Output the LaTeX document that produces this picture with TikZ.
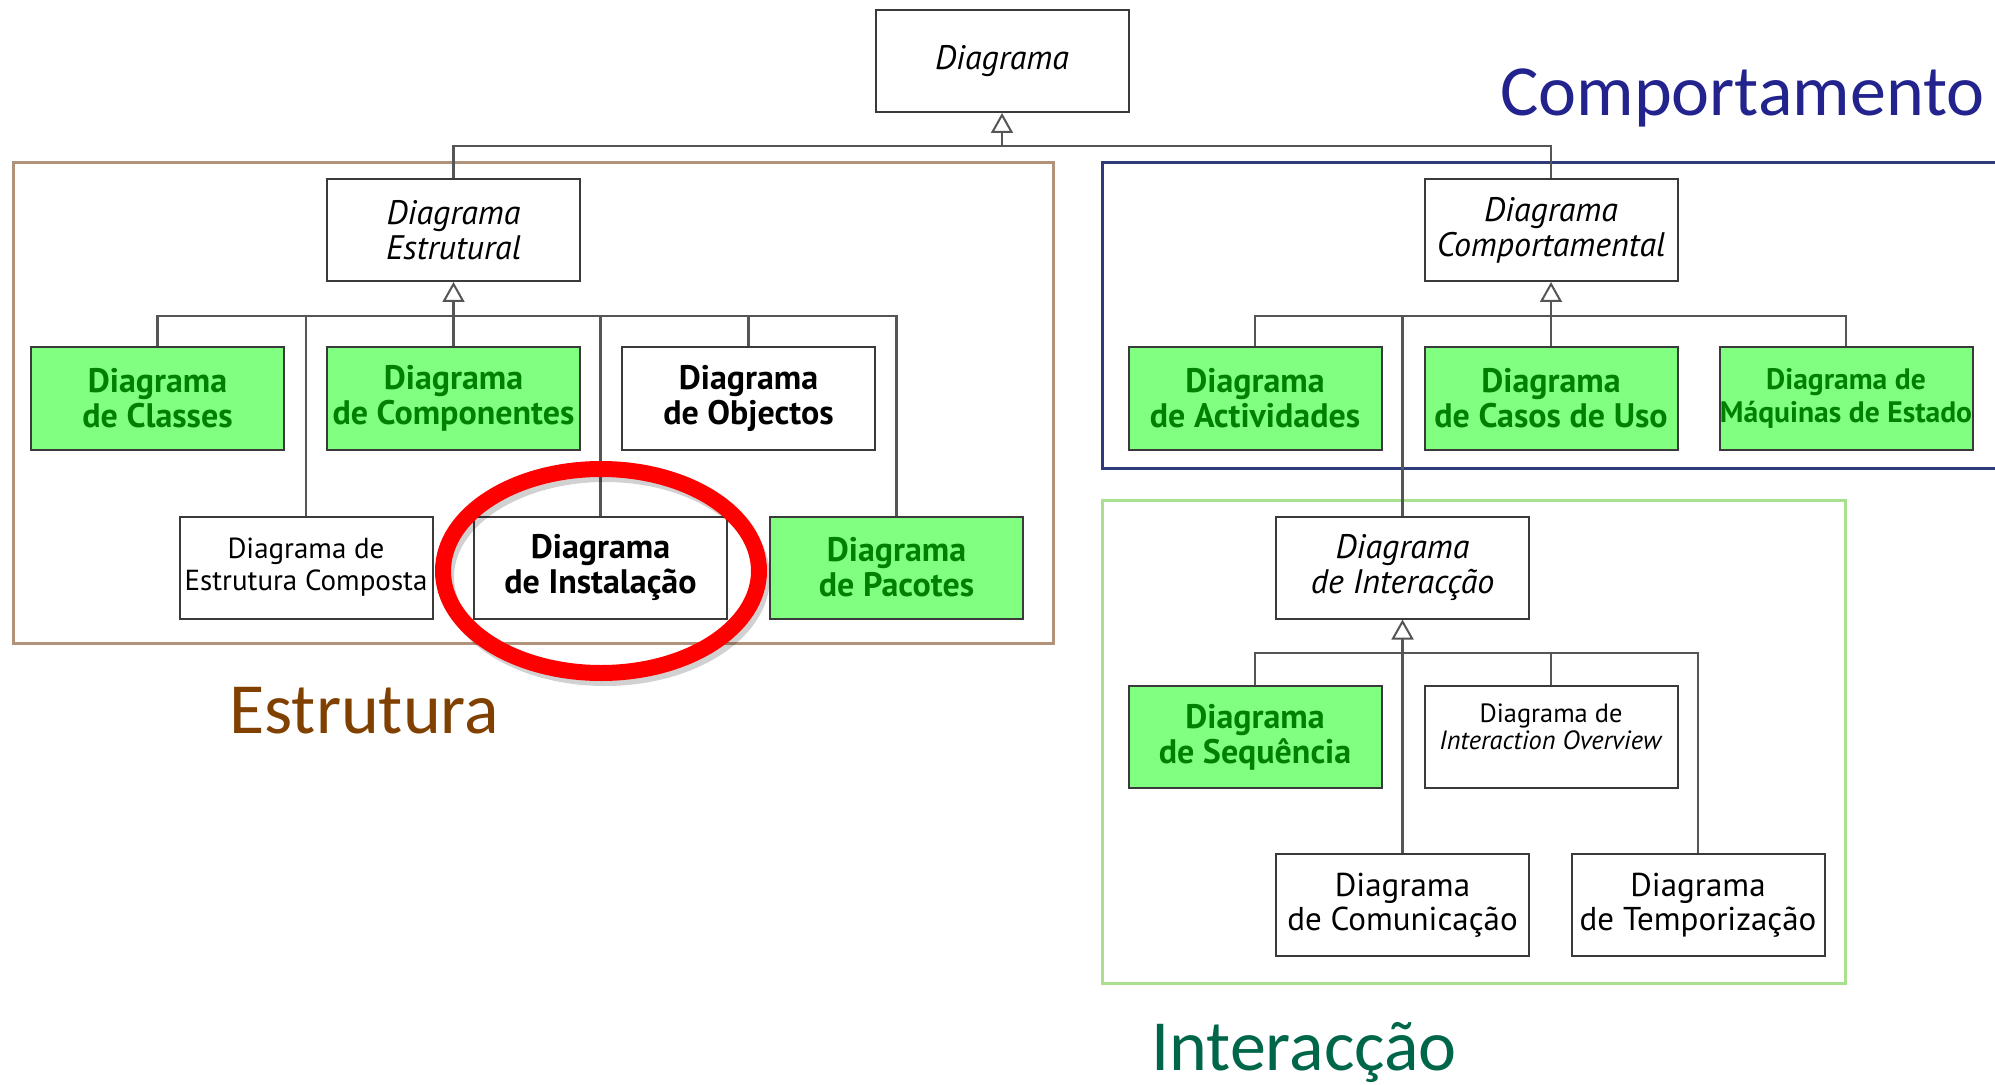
\documentclass[tikz,border=0pt]{standalone}
\usepackage{fontspec}
\setmainfont{PT Sans}
\newfontfamily\labelfont{Carlito}
\usetikzlibrary{arrows.meta,backgrounds}

\definecolor{boxline}{HTML}{3A3A3A}
\definecolor{connline}{HTML}{555555}
\definecolor{greenfill}{HTML}{80FF80}
\definecolor{greentext}{HTML}{008000}
\definecolor{structframe}{HTML}{B0937A}
\definecolor{behavframe}{HTML}{2E3A7A}
\definecolor{interframe}{HTML}{A8E090}
\definecolor{behavtext}{HTML}{23238E}
\definecolor{structtext}{HTML}{7F4000}
\definecolor{intertext}{HTML}{00664A}
\definecolor{markred}{HTML}{FF0000}

\tikzset{
  box/.style={draw=boxline, line width=1pt, fill=white, minimum width=126.5pt,
    minimum height=51pt, inner sep=1pt, align=center, text=black,
    font=\fontsize{16.5}{17}\selectfont},
  abstractbox/.style={box, font=\fontsize{17}{17.5}\selectfont\itshape},
  boldbox/.style={box, font=\fontsize{17}{17.5}\selectfont\bfseries},
  greenbox/.style={box, fill=greenfill, draw=boxline, text=greentext,
    font=\fontsize{17}{17.5}\selectfont\bfseries},
  conn/.style={draw=connline, line width=1.3pt},
  gen/.style={conn, -{Triangle[open, width=11pt, length=10pt, line width=1pt]}},
  frame/.style={line width=1.5pt},
  biglabel/.style={font=\labelfont\fontsize{36}{40}\selectfont, inner sep=0pt},
}

\begin{document}
\begin{tikzpicture}[x=0.5pt, y=-0.5pt]
  \useasboundingbox (0,0) rectangle (1995,1085);
  \clip (0,0) rectangle (1995,1085);

  % bar junctions
  \coordinate (bT) at (1002,146);
  \coordinate (bE) at (453.5,316);
  \coordinate (bB) at (1551,316);
  \coordinate (bI) at (1402.5,653);

  % nodes
  \node[abstractbox] (top) at (1002,61) {Diagrama};
  \node[abstractbox] (est) at (453.5,230) {Diagrama\\Estrutural};
  \node[greenbox] (cls) at (157.5,398.5) {Diagrama\\de Classes};
  \node[greenbox] (comp) at (453.5,398.5) {Diagrama\\de Componentes};
  \node[boldbox] (obj) at (748.5,398.5) {Diagrama\\de Objectos};
  \node[box, font=\fontsize{14.5}{16}\selectfont] (compo) at (306,567.5) {Diagrama de\\Estrutura Composta};
  \node[boldbox] (inst) at (600.5,567.5) {Diagrama\\de Instalação};
  \node[greenbox] (pac) at (896.5,567.5) {Diagrama\\de Pacotes};

  \node[abstractbox] (behav) at (1551,230) {Diagrama\\Comportamental};
  \node[greenbox] (act) at (1255,398.5) {Diagrama\\de Actividades};
  \node[greenbox] (uc) at (1551,398.5) {Diagrama\\de Casos de Uso};
  \node[greenbox, inner xsep=0pt, font=\fontsize{14.8}{16.5}\selectfont\bfseries] (sm) at (1846,398.5) {Diagrama de\\Máquinas de Estado};

  \node[abstractbox] (inter) at (1402.5,567.5) {Diagrama\\de Interacção};
  \node[greenbox] (seq) at (1255,737) {Diagrama\\de Sequência};
  \node[box, font=\fontsize{13.2}{13.5}\selectfont, text depth=10pt] (ovw) at (1551,737) {Diagrama de\\\textit{Interaction Overview}};
  \node[box] (comm) at (1402.5,905) {Diagrama\\de Comunicação};
  \node[box] (tim) at (1698,905) {Diagrama\\de Temporização};

  \begin{pgfonlayer}{background}
    % group frames
    \draw[frame, draw=structframe] (13,163) rectangle (1053,643);
    \draw[frame, draw=behavframe] (1102,163) rectangle (2010,468);
    \draw[frame, draw=interframe] (1102,500) rectangle (1845,983);

    % generalisation connectors
    \draw[conn] (est.north) |- (bT);
    \draw[conn] (behav.north) |- (bT);
    \draw[gen] (bT) -- (top.south);

    \foreach \c in {cls,comp,obj,compo,inst,pac} \draw[conn] (\c.north) |- (bE);
    \draw[gen] (bE) -- (est.south);

    \foreach \c in {act,uc,sm,inter} \draw[conn] (\c.north) |- (bB);
    \draw[gen] (bB) -- (behav.south);

    \foreach \c in {seq,ovw,comm,tim} \draw[conn] (\c.north) |- (bI);
    \draw[gen] (bI) -- (inter.south);
  \end{pgfonlayer}

  % highlight around the deployment diagram
  \draw[line width=7pt, draw=black, opacity=0.18] (605,577) ellipse [x radius=158, y radius=102];
  \draw[line width=8pt, draw=markred] (inst.center) ++(0.5,3.5) ellipse [x radius=158, y radius=102];

  % group labels
  \node[biglabel, text=behavtext, anchor=base east] (lbB) at (1985,116) {Comportamento};
  \node[biglabel, text=structtext, anchor=base west] (lbS) at (229,733) {Estrutura};
  \node[biglabel, text=intertext, anchor=base west] (lbI) at (1151,1070) {Interacção};
\end{tikzpicture}
\end{document}
